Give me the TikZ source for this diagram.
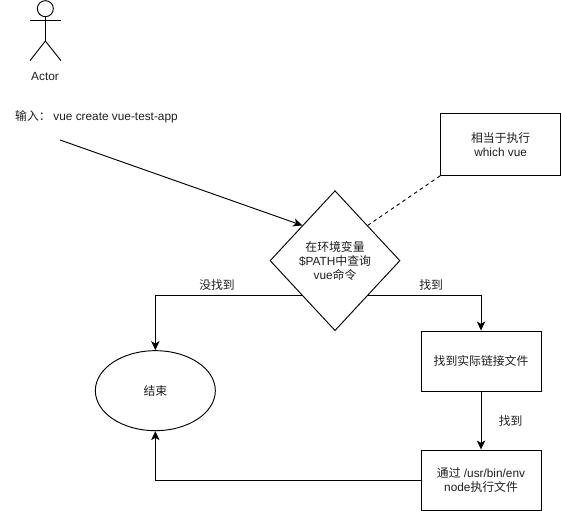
\documentclass[tikz,border=0pt]{standalone}
\usepackage{fontspec}
\setmainfont{Liberation Sans}
\newfontfamily\cjk{Noto Sans CJK SC}
\usetikzlibrary{arrows.meta, positioning, shapes.geometric}
\definecolor{dark}{RGB}{30, 30, 30}

\begin{document}
\begin{tikzpicture}[
    font=\fontsize{10.1}{12}\selectfont,
    text=dark,
    block/.style={draw=black, thick, minimum width=3.6cm, minimum height=1.8cm,
        align=center, inner sep=2pt},
    decision/.style={diamond, draw=black, thick, minimum width=3.9cm,
        minimum height=4.2cm, align=center, inner sep=0pt, text width=2.4cm},
    flow/.style={-{Stealth[length=2.7mm, width=2.5mm, inset=0.7mm]}, thick, draw=black},
    note/.style={thick, dashed, draw=black},
    limb/.style={thick, draw=black},
    edge label/.style={inner sep=2pt}
]
    \useasboundingbox (0,0) rectangle (16.83,-15.33);

    % actor
    \node[circle, draw=black, thick, minimum size=0.48cm, inner sep=0pt] (head) at (1.36,-0.26) {};
    \coordinate (hip) at (1.36,-1.23);
    \coordinate (armL) at (0.9,-0.6);
    \coordinate (armR) at (1.83,-0.6);
    \coordinate (footL) at (0.9,-1.82);
    \coordinate (footR) at (1.83,-1.82);
    \draw[limb] (head.south) -- (hip);
    \draw[limb] (armL) -- (armR);
    \draw[limb] (footL) -- (hip) -- (footR);
    \node (actor) at (1.35,-2.28) {Actor};

    \node[anchor=west, inner sep=0pt] (input) at (0.45,-3.5) {{\cjk 输入：}\hspace{2.3pt}vue create vue-test-app};
    \coordinate (start) at (1.8,-4.2);

    \node[decision] (search) at (10.05,-7.82) {{\cjk 在环境变量}\\\$PATH{\cjk 中查询}\\vue{\cjk 命令}};
    \node[block, minimum height=1.86cm] (which) at (15.02,-4.33) {{\cjk 相当于执行}\\which vue};
    \node[block] (link) at (14.43,-10.83) {{\cjk 找到实际链接文件}};
    \node[block] (exec) at (14.43,-14.4) {{\cjk 通过} /usr/bin/env\\node{\cjk 执行文件}};
    \node[ellipse, draw=black, thick, minimum width=3.6cm, minimum height=2.4cm] (finish) at (4.66,-11.72) {{\cjk 结束}};

    \draw[flow] (start) -- (search.north west);
    \draw[note] (which.south west) -- (search.north east);
    \draw[flow] (search.south west) -| node[edge label, above=2pt, pos=0.29] {\cjk 没找到} (finish.north);
    \draw[flow] (search.south east) -| node[edge label, above=2pt, pos=0.28] {\cjk 找到} (link.north);
    \draw[flow] (link.south) -- node[edge label, right=4.5mm] {\cjk 找到} (exec.north);
    \draw[flow] (exec.west) -| (finish.south);
\end{tikzpicture}
\end{document}
